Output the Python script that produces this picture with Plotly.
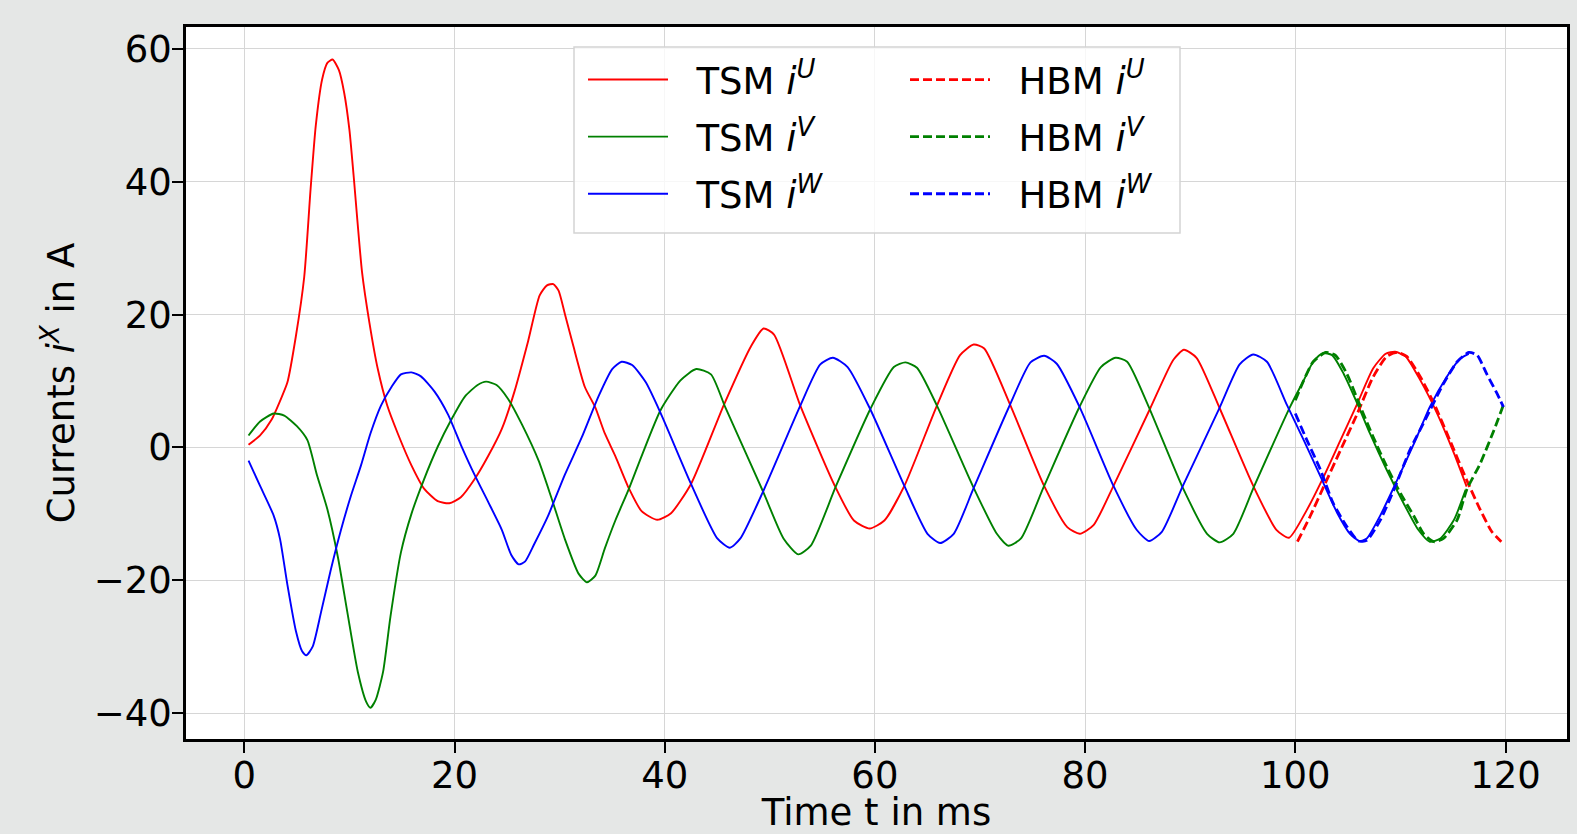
import plotly.graph_objects as go

# ---- TSM (time-stepping) currents ----
tsm_u_t = [0.4, 1.5, 2.6, 3.4, 4.1, 4.9, 5.7, 6.3, 6.8, 7.4, 7.9, 8.4, 9.0, 9.5, 10.0, 10.4, 11.2, 11.9, 12.7, 13.6,
           14.6, 15.9, 17.1, 18.4, 19.5, 20.6, 21.9, 23.2, 24.5, 25.7, 27.0, 28.1, 28.8, 29.4, 29.9, 30.5, 31.3, 32.4,
           33.4, 34.3, 35.3, 36.6, 37.8, 39.3, 40.6, 42.5, 45.6, 48.2, 49.4, 50.4, 52.9, 56.1, 58.0, 59.5, 60.9, 62.8,
           65.9, 68.1, 69.4, 70.4, 72.9, 76.1, 78.3, 79.5, 80.8, 82.7, 86.2, 88.4, 89.4, 90.6, 92.8, 96.0, 98.2, 99.4,
           101.1, 102.7, 104.3, 105.9, 107.4, 108.6, 109.5, 110.5, 111.9, 113.5, 115.1, 116.3]
tsm_u = [0.4, 1.8, 4.2, 7.0, 9.8, 16.7, 25.7, 38.8, 48.5, 55.4, 57.9, 58.4, 56.8, 53.4, 47.8, 40.9, 26.4, 18.8, 11.8, 6.3,
         2.1, -2.7, -6.2, -8.1, -8.4, -7.5, -4.8, -1.3, 2.8, 8.4, 16.0, 22.9, 24.4, 24.6, 23.6, 20.1, 15.3, 9.1,
         6.0, 2.1, -1.3, -6.2, -9.6, -10.9, -9.9, -5.5, 6.3, 15.2, 17.9, 17.0, 6.3, -5.5, -11.0, -12.2, -11.0, -5.8,
         6.3, 13.9, 15.5, 14.9, 6.3, -5.8, -12.0, -13.0, -11.7, -5.8, 5.9, 13.2, 14.7, 13.5, 5.9, -5.8, -12.4, -13.6,
         -9.4, -4.4, 1.1, 6.6, 11.9, 14.1, 14.4, 13.7, 10.1, 5.1, -0.9, -5.9]

tsm_v_t = [0.4, 1.5, 2.8, 3.8, 5.0, 6.0, 6.9, 7.9, 8.9, 9.8, 10.8, 11.6, 12.0, 12.5, 13.2, 13.9, 14.9, 15.9, 17.1, 18.4,
           19.7, 21.0, 22.2, 23.0, 24.0, 25.1, 26.4, 28.0, 29.2, 30.5, 31.8, 32.6, 33.4, 34.3, 35.3, 36.6, 37.8, 39.6,
           41.5, 43.0, 44.4, 45.8, 49.4, 51.3, 52.7, 53.9, 56.3, 59.6, 61.8, 62.9, 64.0, 65.9, 69.4, 71.6, 72.7, 73.9,
           76.1, 79.4, 81.5, 82.9, 84.0, 86.0, 89.3, 91.6, 92.8, 94.1, 96.1, 99.5, 100.8, 101.7, 102.6, 103.5, 104.6,
           105.9, 107.1, 108.7, 110.3, 111.7, 112.8, 113.8, 115.1, 116.2]
tsm_v = [1.8, 3.9, 5.1, 4.8, 3.2, 1.1, -4.1, -9.3, -16.5, -24.8, -33.8, -38.3, -39.2, -38.0, -33.8, -25.5, -15.8, -10.0,
         -4.8, 0.1, 4.2, 7.7, 9.4, 9.9, 9.4, 7.3, 3.5, -2.0, -7.5, -13.8, -19.0, -20.3, -19.3, -15.2, -11.0, -6.2, -1.3,
         5.6, 10.1, 11.8, 11.0, 5.9, -6.8, -13.7, -16.1, -14.8, -5.8, 5.9, 12.1, 12.8, 12.0, 6.3, -6.1, -13.0, -14.8,
         -13.7, -5.8, 5.9, 12.1, 13.5, 12.9, 6.3, -6.1, -13.0, -14.3, -13.0, -5.8, 6.1, 10.1, 12.9, 14.2, 13.9, 11.1,
         6.6, 2.1, -3.4, -8.4, -12.4, -14.2, -13.7, -10.9, -6.4]

tsm_w_t = [0.4, 1.5, 2.8, 3.4, 4.1, 4.9, 5.5, 5.9, 6.5, 7.3, 8.2, 9.2, 10.1, 11.1, 12.0, 13.0, 14.0, 14.9, 15.9, 16.8,
           18.1, 19.4, 20.6, 21.9, 23.2, 24.5, 25.4, 26.1, 26.7, 27.6, 28.9, 30.5, 32.1, 33.7, 35.0, 35.9, 36.9, 38.2,
           39.6, 42.5, 45.0, 46.2, 47.2, 49.4, 52.9, 54.8, 56.0, 57.4, 59.6, 62.8, 65.0, 66.2, 67.5, 69.4, 72.7, 74.8,
           76.1, 77.3, 79.5, 82.7, 84.9, 86.1, 87.3, 89.3, 92.8, 94.7, 96.0, 97.3, 99.2, 100.8, 102.4, 104.0, 105.2,
           106.1, 106.8, 108.1, 109.7, 111.3, 112.8, 114.4, 115.7, 116.5]
tsm_w = [-2.0, -5.8, -10.3, -13.8, -20.7, -27.6, -30.7, -31.3, -30.0, -24.8, -18.6, -12.4, -7.5, -2.7, 2.1, 6.3, 9.1,
         11.0, 11.3, 10.7, 8.4, 4.9, 0.4, -4.1, -8.2, -12.4, -16.2, -17.6, -17.2, -14.5, -10.3, -4.1, 1.5, 7.7, 11.8,
         12.9, 12.4, 9.8, 5.2, -5.5, -13.7, -15.1, -13.7, -6.5, 6.3, 12.5, 13.5, 12.1, 5.6, -5.8, -13.0, -14.4, -13.0,
         -6.1, 5.9, 12.8, 13.8, 12.6, 6.0, -5.8, -12.4, -14.1, -12.7, -5.8, 6.0, 12.5, 14.0, 12.9, 6.4, 1.1, -4.4, -9.9,
         -13.0, -14.1, -13.7, -10.2, -4.9, 0.6, 6.1, 10.6, 13.4, 14.1]

# ---- HBM (harmonic balance) currents ----
hbm_u_t = [100.2, 101.4, 102.7, 104.3, 105.9, 107.4, 108.7, 109.7, 110.6, 111.9, 113.2, 114.7, 116.3, 117.6, 118.7, 119.6]
hbm_u = [-14.2, -10.4, -5.9, -0.4, 5.1, 10.6, 13.7, 14.3, 13.7, 10.6, 6.6, 1.1, -4.9, -9.4, -12.7, -14.2]

hbm_v_t = [100.0, 100.8, 101.7, 102.9, 103.8, 104.9, 106.2, 107.4, 108.7, 110.0, 111.3, 112.2, 113.2, 114.1, 115.4,
           116.3, 117.6, 118.9, 119.8]
hbm_v = [7.1, 10.1, 12.9, 14.3, 13.9, 11.1, 6.1, 1.6, -2.9, -6.9, -10.4, -13.0, -14.2, -13.7, -10.9, -6.4, -2.4, 2.6, 6.4]

hbm_w_t = [100.0, 101.1, 102.4, 103.6, 104.9, 106.0, 106.8, 108.1, 109.5, 110.9, 112.5, 114.1, 115.4, 116.5, 117.3,
           118.2, 119.2, 119.8]
hbm_w = [5.1, 1.1, -3.4, -8.4, -11.9, -14.1, -14.0, -10.9, -5.9, -0.4, 4.6, 9.6, 12.9, 14.3, 13.9, 11.1, 8.1, 6.1]

x_ticks = [0, 20, 40, 60, 80, 100, 120]
y_ticks = [-40, -20, 0, 20, 40, 60]

FONT = "DejaVu Sans"
RED, GREEN, BLUE = "#ff0000", "#008000", "#0000ff"
NB = "\u00a0\u00a0"

fig = go.Figure()
series = [
    (tsm_u_t, tsm_u, RED, "solid", 1.9, NB + "TSM <i>i</i><sup><i>U</i></sup>", "legend"),
    (tsm_v_t, tsm_v, GREEN, "solid", 1.9, NB + "TSM <i>i</i><sup><i>V</i></sup>", "legend"),
    (tsm_w_t, tsm_w, BLUE, "solid", 1.9, NB + "TSM <i>i</i><sup><i>W</i></sup>", "legend"),
    (hbm_u_t, hbm_u, RED, "9px,4px", 2.8, NB + "HBM <i>i</i><sup><i>U</i></sup>", "legend2"),
    (hbm_v_t, hbm_v, GREEN, "9px,4px", 2.8, NB + "HBM <i>i</i><sup><i>V</i></sup>", "legend2"),
    (hbm_w_t, hbm_w, BLUE, "9px,4px", 2.8, NB + "HBM <i>i</i><sup><i>W</i></sup>", "legend2"),
]
for i, (t, v, c, dash, w, name, lg) in enumerate(series):
    fig.add_trace(go.Scatter(
        x=t, y=v, mode="lines", name=name, legend=lg, legendgroup=f"g{i}",
        line=dict(color=c, width=w, dash=dash, shape="spline", smoothing=0.6),
    ))

axis_common = dict(
    showline=True, linecolor="black", linewidth=2.5, mirror=True,
    ticks="outside", ticklen=11, tickwidth=2, tickcolor="black",
    showgrid=True, gridcolor="#d6d6d6", gridwidth=1, zeroline=False, automargin=False,
    tickfont=dict(family=FONT, size=37, color="black"),
)
fig.update_xaxes(range=[-5.55, 125.85], tickvals=x_ticks, ticktext=[str(v) for v in x_ticks],
                 ticklabelstandoff=-9,
                 title=dict(text="Time t in ms", font=dict(family=FONT, size=37, color="black"), standoff=6),
                 **axis_common)
fig.update_yaxes(range=[-43.9, 63.3], tickvals=y_ticks,
                 ticktext=[("\u2212" + str(-v)) if v < 0 else str(v) for v in y_ticks],
                 ticklabelstandoff=-7,
                 title=dict(text="Currents <i>i</i><sup><i>X</i></sup> in A",
                            font=dict(family=FONT, size=37, color="black"), standoff=8),
                 **axis_common)

# legend frame (single box around both legend columns)
PL, PR, PT, PB = 186, 1567, 27, 739
def px2x(p):
    return (p - PL) / (PR - PL)
def py2y(p):
    return (PB - p) / (PB - PT)
bx0, bx1, by0, by1 = 574, 1180, 47, 233
fig.add_shape(type="rect", xref="paper", yref="paper",
              x0=px2x(bx0), x1=px2x(bx1), y0=py2y(by1), y1=py2y(by0),
              fillcolor="rgba(255,255,255,0.8)", line=dict(color="#d4d4d4", width=1.5), layer="above")

leg_common = dict(
    orientation="v", xanchor="left", yanchor="top", traceorder="grouped",
    bgcolor="rgba(0,0,0,0)", borderwidth=0, itemwidth=80, tracegroupgap=6,
    font=dict(family=FONT, size=37, color="black"),
)
fig.update_layout(
    width=1577, height=834,
    paper_bgcolor="#e5e7e6", plot_bgcolor="white",
    margin=dict(l=PL, r=1577 - PR, t=PT, b=834 - PB),
    font=dict(family=FONT, size=37, color="black"),
    showlegend=True,
    legend=dict(x=px2x(583), y=py2y(49), **leg_common),
    legend2=dict(x=px2x(905), y=py2y(49), **leg_common),
)

fig.write_html("out.html", config={"displayModeBar": False},
               post_script="document.body.style.margin='0';document.body.style.background='#e5e7e6';")
